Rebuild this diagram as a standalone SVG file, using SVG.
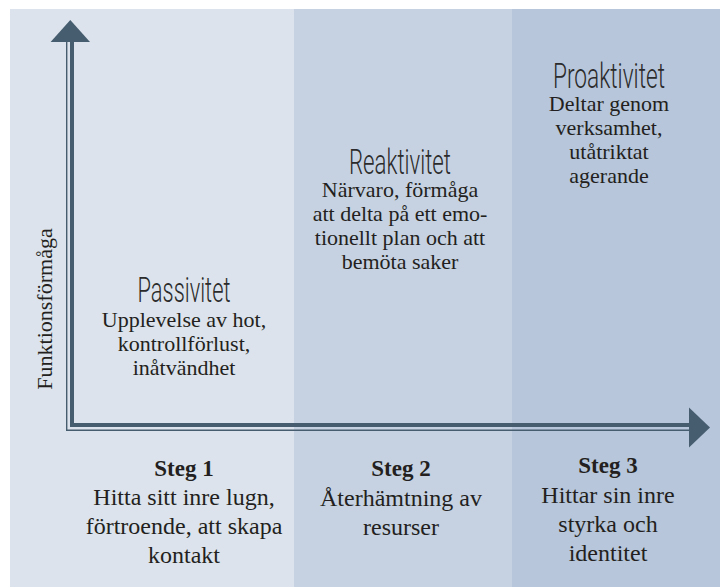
<svg xmlns="http://www.w3.org/2000/svg" width="720" height="587" viewBox="0 0 720 587">
<style>
.title{font-family:Roboto,"Liberation Sans",sans-serif;font-weight:300;font-size:35px;fill:#2b2b2b;text-anchor:middle}
.body{font-family:"Liberation Serif","DejaVu Serif",serif;font-size:22px;fill:#231f20;text-anchor:middle}
.step{font-family:"Liberation Serif","DejaVu Serif",serif;font-size:24px;fill:#231f20;text-anchor:middle}
.stepb{font-weight:bold;font-size:23px}
.axis{fill:#465d6f}
</style>
<rect x="0" y="0" width="720" height="587" fill="#ffffff"/>
<g id="panels">
<rect x="10" y="9" width="284" height="578" fill="#dce3ec"/>
<rect x="294" y="9" width="218" height="578" fill="#c6d2e2"/>
<rect x="512" y="9" width="208" height="578" fill="#b7c6da"/>
</g>
<g id="connectors">
<rect class="axis" x="70" y="40" width="4" height="387"/>
<rect class="axis" x="70" y="423" width="621" height="4"/>
<path d="M66.7 41 V430.3 H691" fill="none" stroke="#465d6f" stroke-width="1.4"/>
<polygon class="axis" points="70.3,20 90,42 50.6,42"/>
<polygon class="axis" points="689,407.5 710,427.5 689,447.5"/>
</g>
<g id="y-label">
<text class="body" transform="translate(51.5,309) rotate(-90)" style="font-size:22px">Funktionsförmåga</text>
</g>
<g id="passivitet">
<text class="title" x="184" y="302" textLength="93" lengthAdjust="spacingAndGlyphs">Passivitet</text>
<text class="body" x="184" y="326.5">Upplevelse av hot,</text>
<text class="body" x="184" y="350.5">kontrollförlust,</text>
<text class="body" x="184" y="374.5">inåtvändhet</text>
</g>
<g id="reaktivitet">
<text class="title" x="400" y="173.5" textLength="102" lengthAdjust="spacingAndGlyphs">Reaktivitet</text>
<text class="body" x="400" y="197">Närvaro, förmåga</text>
<text class="body" x="400" y="221">att delta på ett emo-</text>
<text class="body" x="400" y="245">tionellt plan och att</text>
<text class="body" x="400" y="269">bemöta saker</text>
</g>
<g id="proaktivitet">
<text class="title" x="609" y="87.5" textLength="112" lengthAdjust="spacingAndGlyphs">Proaktivitet</text>
<text class="body" x="609" y="111">Deltar genom</text>
<text class="body" x="609" y="135">verksamhet,</text>
<text class="body" x="609" y="159">utåtriktat</text>
<text class="body" x="609" y="183">agerande</text>
</g>
<g id="steg1">
<text class="step stepb" x="184" y="476">Steg 1</text>
<text class="step" x="184" y="505">Hitta sitt inre lugn,</text>
<text class="step" x="184" y="534">förtroende, att skapa</text>
<text class="step" x="184" y="563">kontakt</text>
</g>
<g id="steg2">
<text class="step stepb" x="401" y="476">Steg 2</text>
<text class="step" x="401" y="505.5">Återhämtning av</text>
<text class="step" x="401" y="534.5">resurser</text>
</g>
<g id="steg3">
<text class="step stepb" x="608" y="473">Steg 3</text>
<text class="step" x="608" y="502.5">Hittar sin inre</text>
<text class="step" x="608" y="532">styrka och</text>
<text class="step" x="608" y="561">identitet</text>
</g>
</svg>
